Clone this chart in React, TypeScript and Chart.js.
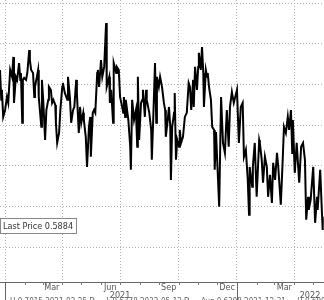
import React, { useEffect, useRef } from "react";
import { Chart, registerables } from "chart.js";

Chart.register(...registerables);

// days since 2021-01-01
const dayIndex: number[] = [
  -8, -6, -5, -3, 0, 3, 5, 8, 11, 13, 14, 17, 19, 22, 24, 25, 27, 28, 30, 33,
  35, 38, 39, 41, 44, 46, 47, 50, 52, 53, 57, 58, 60, 63, 65, 68, 69, 72, 74, 76,
  79, 80, 82, 85, 87, 90, 91, 94, 98, 99, 102, 104, 107, 109, 112, 113, 116, 118, 120, 123,
  124, 127, 129, 132, 134, 135, 138, 140, 142, 145, 146, 148, 151, 153, 156, 159, 160, 164, 165, 167,
  170, 171, 175, 176, 179, 181, 183, 186, 187, 189, 190, 194, 197, 198, 200, 203, 206, 208, 209, 211,
  214, 216, 217, 220, 222, 223, 227, 230, 231, 233, 236, 238, 239, 242, 244, 247, 250, 252, 253, 256,
  258, 260, 261, 263, 266, 267, 269, 271, 274, 275, 277, 280, 283, 286, 289, 291, 293, 296, 297, 299,
  302, 304, 305, 308, 310, 312, 313, 316, 318, 319, 321, 324, 326, 329, 330, 332, 337, 340, 343, 346,
  349, 352, 354, 357, 360, 365, 368, 371, 374, 376, 379, 382, 384, 385, 389, 390, 393, 396, 400, 401,
  404, 406, 409, 412, 414, 417, 420, 422, 425, 428, 430, 434, 437, 439, 442, 445, 447, 450, 452, 453,
  456, 459, 463, 466, 469, 472, 474, 477, 478, 481, 485, 488, 491, 492, 496, 499, 500,
];

const prices: number[] = [
  0.6671, 0.6524, 0.6573, 0.6440, 0.6474, 0.6538, 0.6509, 0.6671, 0.6637, 0.6735, 0.6509, 0.6637, 0.6622, 0.6705, 0.6622, 0.6656, 0.6411, 0.6622, 0.6632, 0.6622,
  0.6656, 0.6769, 0.6720, 0.6671, 0.6656, 0.6538, 0.6588, 0.6637, 0.6671, 0.6538, 0.6391, 0.6622, 0.6524, 0.6327, 0.6474, 0.6524, 0.6588, 0.6573, 0.6509, 0.6524,
  0.6499, 0.6411, 0.6312, 0.6361, 0.6474, 0.6588, 0.6607, 0.6558, 0.6524, 0.6637, 0.6538, 0.6411, 0.6474, 0.6489, 0.6622, 0.6558, 0.6361, 0.6489, 0.6411, 0.6460,
  0.6425, 0.6342, 0.6194, 0.6391, 0.6440, 0.6244, 0.6460, 0.6474, 0.6460, 0.6656, 0.6671, 0.6588, 0.6720, 0.6637, 0.6686, 0.6902, 0.6588, 0.6637, 0.6509, 0.6573,
  0.6411, 0.6705, 0.6656, 0.6686, 0.6671, 0.6538, 0.6509, 0.6460, 0.6538, 0.6440, 0.6524, 0.6425, 0.6293, 0.6180, 0.6524, 0.6425, 0.6474, 0.6293, 0.6637, 0.6327,
  0.6509, 0.6524, 0.6573, 0.6440, 0.6573, 0.6524, 0.6460, 0.6376, 0.6229, 0.6411, 0.6705, 0.6411, 0.6637, 0.6588, 0.6637, 0.6588, 0.6509, 0.6474, 0.6342, 0.6425,
  0.6489, 0.6391, 0.6130, 0.6391, 0.6460, 0.6558, 0.6229, 0.6327, 0.6293, 0.6376, 0.6312, 0.6342, 0.6440, 0.6460, 0.6607, 0.6588, 0.6474, 0.6622, 0.6489, 0.6686,
  0.6573, 0.6686, 0.6755, 0.6671, 0.6784, 0.6656, 0.6489, 0.6671, 0.6637, 0.6656, 0.6588, 0.6524, 0.6391, 0.6376, 0.6180, 0.6366, 0.5998, 0.6538, 0.6312, 0.6263,
  0.6474, 0.6293, 0.6489, 0.6563, 0.6509, 0.6573, 0.6312, 0.6489, 0.6509, 0.6244, 0.6278, 0.6130, 0.5959, 0.6194, 0.6096, 0.6194, 0.6312, 0.6047, 0.6327, 0.6312,
  0.6229, 0.6116, 0.6244, 0.6194, 0.6047, 0.6155, 0.6017, 0.6214, 0.6130, 0.6263, 0.6194, 0.6008, 0.6229, 0.6391, 0.6361, 0.6440, 0.6376, 0.6474, 0.6263, 0.6425,
  0.6165, 0.6312, 0.6116, 0.6293, 0.6312, 0.6229, 0.5934, 0.6047, 0.5983, 0.6032, 0.6194, 0.5919, 0.6047, 0.5983, 0.6180, 0.5949, 0.5884,
];

const monthStartDays: number[] = [0, 31, 59, 90, 120, 151, 181, 212, 243, 273, 304, 334, 365, 396, 424, 455, 485];
const quarterStartDays: number[] = [0, 90, 181, 273, 365, 455];
const monthLabels: string[] = ["Mar", "Jun", "Sep", "Dec", "Mar"];
const monthLabelDays: number[] = [73.5, 165.5, 257.5, 349.5, 439.5];
const yearStartDays: number[] = [0, 365];
const yearLabels: string[] = ["2021", "2022"];
const yearLabelDays: number[] = [181, 480];
const yGridValues: number[] = [0.58, 0.6, 0.62, 0.64, 0.66, 0.68, 0.7];
const lastPrice = 0.5884;
const lastPriceLabel = "Last Price";
const statsText = "H 0.7015 2021-02-25 D     L 0.5778 2022-05-12 D     Avg 0.6398 2021-12-31     H 0.6902 2021/06";

const FONT = "'Liberation Sans Narrow', 'DejaVu Sans Condensed', 'Arial Narrow', sans-serif";

const bottomPlugin = {
  id: "bottomDecor",
  afterDraw(chart: any) {
    const { ctx, chartArea, scales } = chart;
    const xs = scales.x;
    const axisY = chartArea.bottom;
    ctx.save();
    // month ticks
    ctx.strokeStyle = "#777";
    ctx.lineWidth = 1;
    monthStartDays.forEach((d) => {
      const px = Math.round(xs.getPixelForValue(d)) + 0.5;
      ctx.beginPath();
      ctx.moveTo(px, axisY);
      ctx.lineTo(px, axisY + 3);
      ctx.stroke();
    });
    // year separators
    ctx.strokeStyle = "#666";
    yearStartDays.forEach((d) => {
      const px = Math.round(xs.getPixelForValue(d)) + 0.5;
      ctx.beginPath();
      ctx.moveTo(px, axisY);
      ctx.lineTo(px, chart.height);
      ctx.stroke();
    });
    // month labels
    ctx.fillStyle = "#555";
    ctx.font = `9px ${FONT}`;
    ctx.textAlign = "center";
    ctx.textBaseline = "middle";
    monthLabels.forEach((m, i) => {
      ctx.fillText(m, xs.getPixelForValue(monthLabelDays[i]), axisY + 5.5);
    });
    // year labels
    yearLabels.forEach((y, i) => {
      ctx.fillText(y, xs.getPixelForValue(yearLabelDays[i]), axisY + 13.5);
    });
    // stats row (clipped by canvas bottom)
    ctx.textAlign = "left";
    ctx.textBaseline = "top";
    ctx.font = `8px ${FONT}`;
    ctx.fillStyle = "#666";
    ctx.fillText(statsText, 10, chart.height - 2);

    // last price box
    const ys = scales.y;
    const cy = ys.getPixelForValue(lastPrice) - 4;
    ctx.font = `9px ${FONT}`;
    const label = `${lastPriceLabel} ${lastPrice.toFixed(4)}`;
    const tw = ctx.measureText(label).width;
    const bx = 0.5;
    const bw = Math.round(tw + 6);
    const bh = 15;
    const by = Math.round(cy - bh / 2) + 0.5;
    ctx.fillStyle = "#fff";
    ctx.fillRect(bx, by, bw, bh);
    ctx.strokeStyle = "#888";
    ctx.strokeRect(bx, by, bw, bh);
    ctx.fillStyle = "#333";
    ctx.textBaseline = "middle";
    ctx.fillText(label, 3, by + bh / 2 + 0.5);
    ctx.restore();
  },
};

export default function App() {
  const ref = useRef<HTMLCanvasElement | null>(null);
  useEffect(() => {
    if (!ref.current) return;
    const data = dayIndex.map((d, i) => ({ x: d, y: prices[i] }));
    const chart = new Chart(ref.current, {
      type: "line",
      data: {
        datasets: [
          {
            data,
            borderColor: "#000",
            borderWidth: 2,
            pointRadius: 0,
            tension: 0,
            fill: false,
          },
        ],
      },
      options: {
        animation: false,
        responsive: false,
        devicePixelRatio: 1,
        layout: { padding: 0 },
        plugins: { legend: { display: false }, tooltip: { enabled: false } },
        scales: {
          x: {
            type: "linear",
            min: -8,
            max: 502,
            position: "bottom",
            afterBuildTicks: (scale: any) => {
              scale.ticks = quarterStartDays.map((v) => ({ value: v }));
            },
            afterFit: (scale: any) => {
              scale.height = 18;
            },
            ticks: { display: false },
            grid: { color: "#b4b4b4", drawTicks: false, lineWidth: 1 },
            border: { display: true, color: "#666", width: 1, dash: [1, 2] },
          },
          y: {
            type: "linear",
            min: 0.5628,
            max: 0.7015,
            position: "left",
            afterBuildTicks: (scale: any) => {
              scale.ticks = yGridValues.map((v) => ({ value: v }));
            },
            afterFit: (scale: any) => {
              scale.width = 0;
            },
            ticks: { display: false },
            grid: { color: "#b4b4b4", drawTicks: false, lineWidth: 1 },
            border: { display: false, dash: [1, 2] },
          },
        },
      },
      plugins: [bottomPlugin],
    });
    return () => chart.destroy();
  }, []);
  return (
    <div style={{ position: "absolute", left: 0, top: 0, width: 324, height: 300, background: "#fff" }}>
      <canvas ref={ref} width={324} height={300} style={{ display: "block" }} />
    </div>
  );
}
